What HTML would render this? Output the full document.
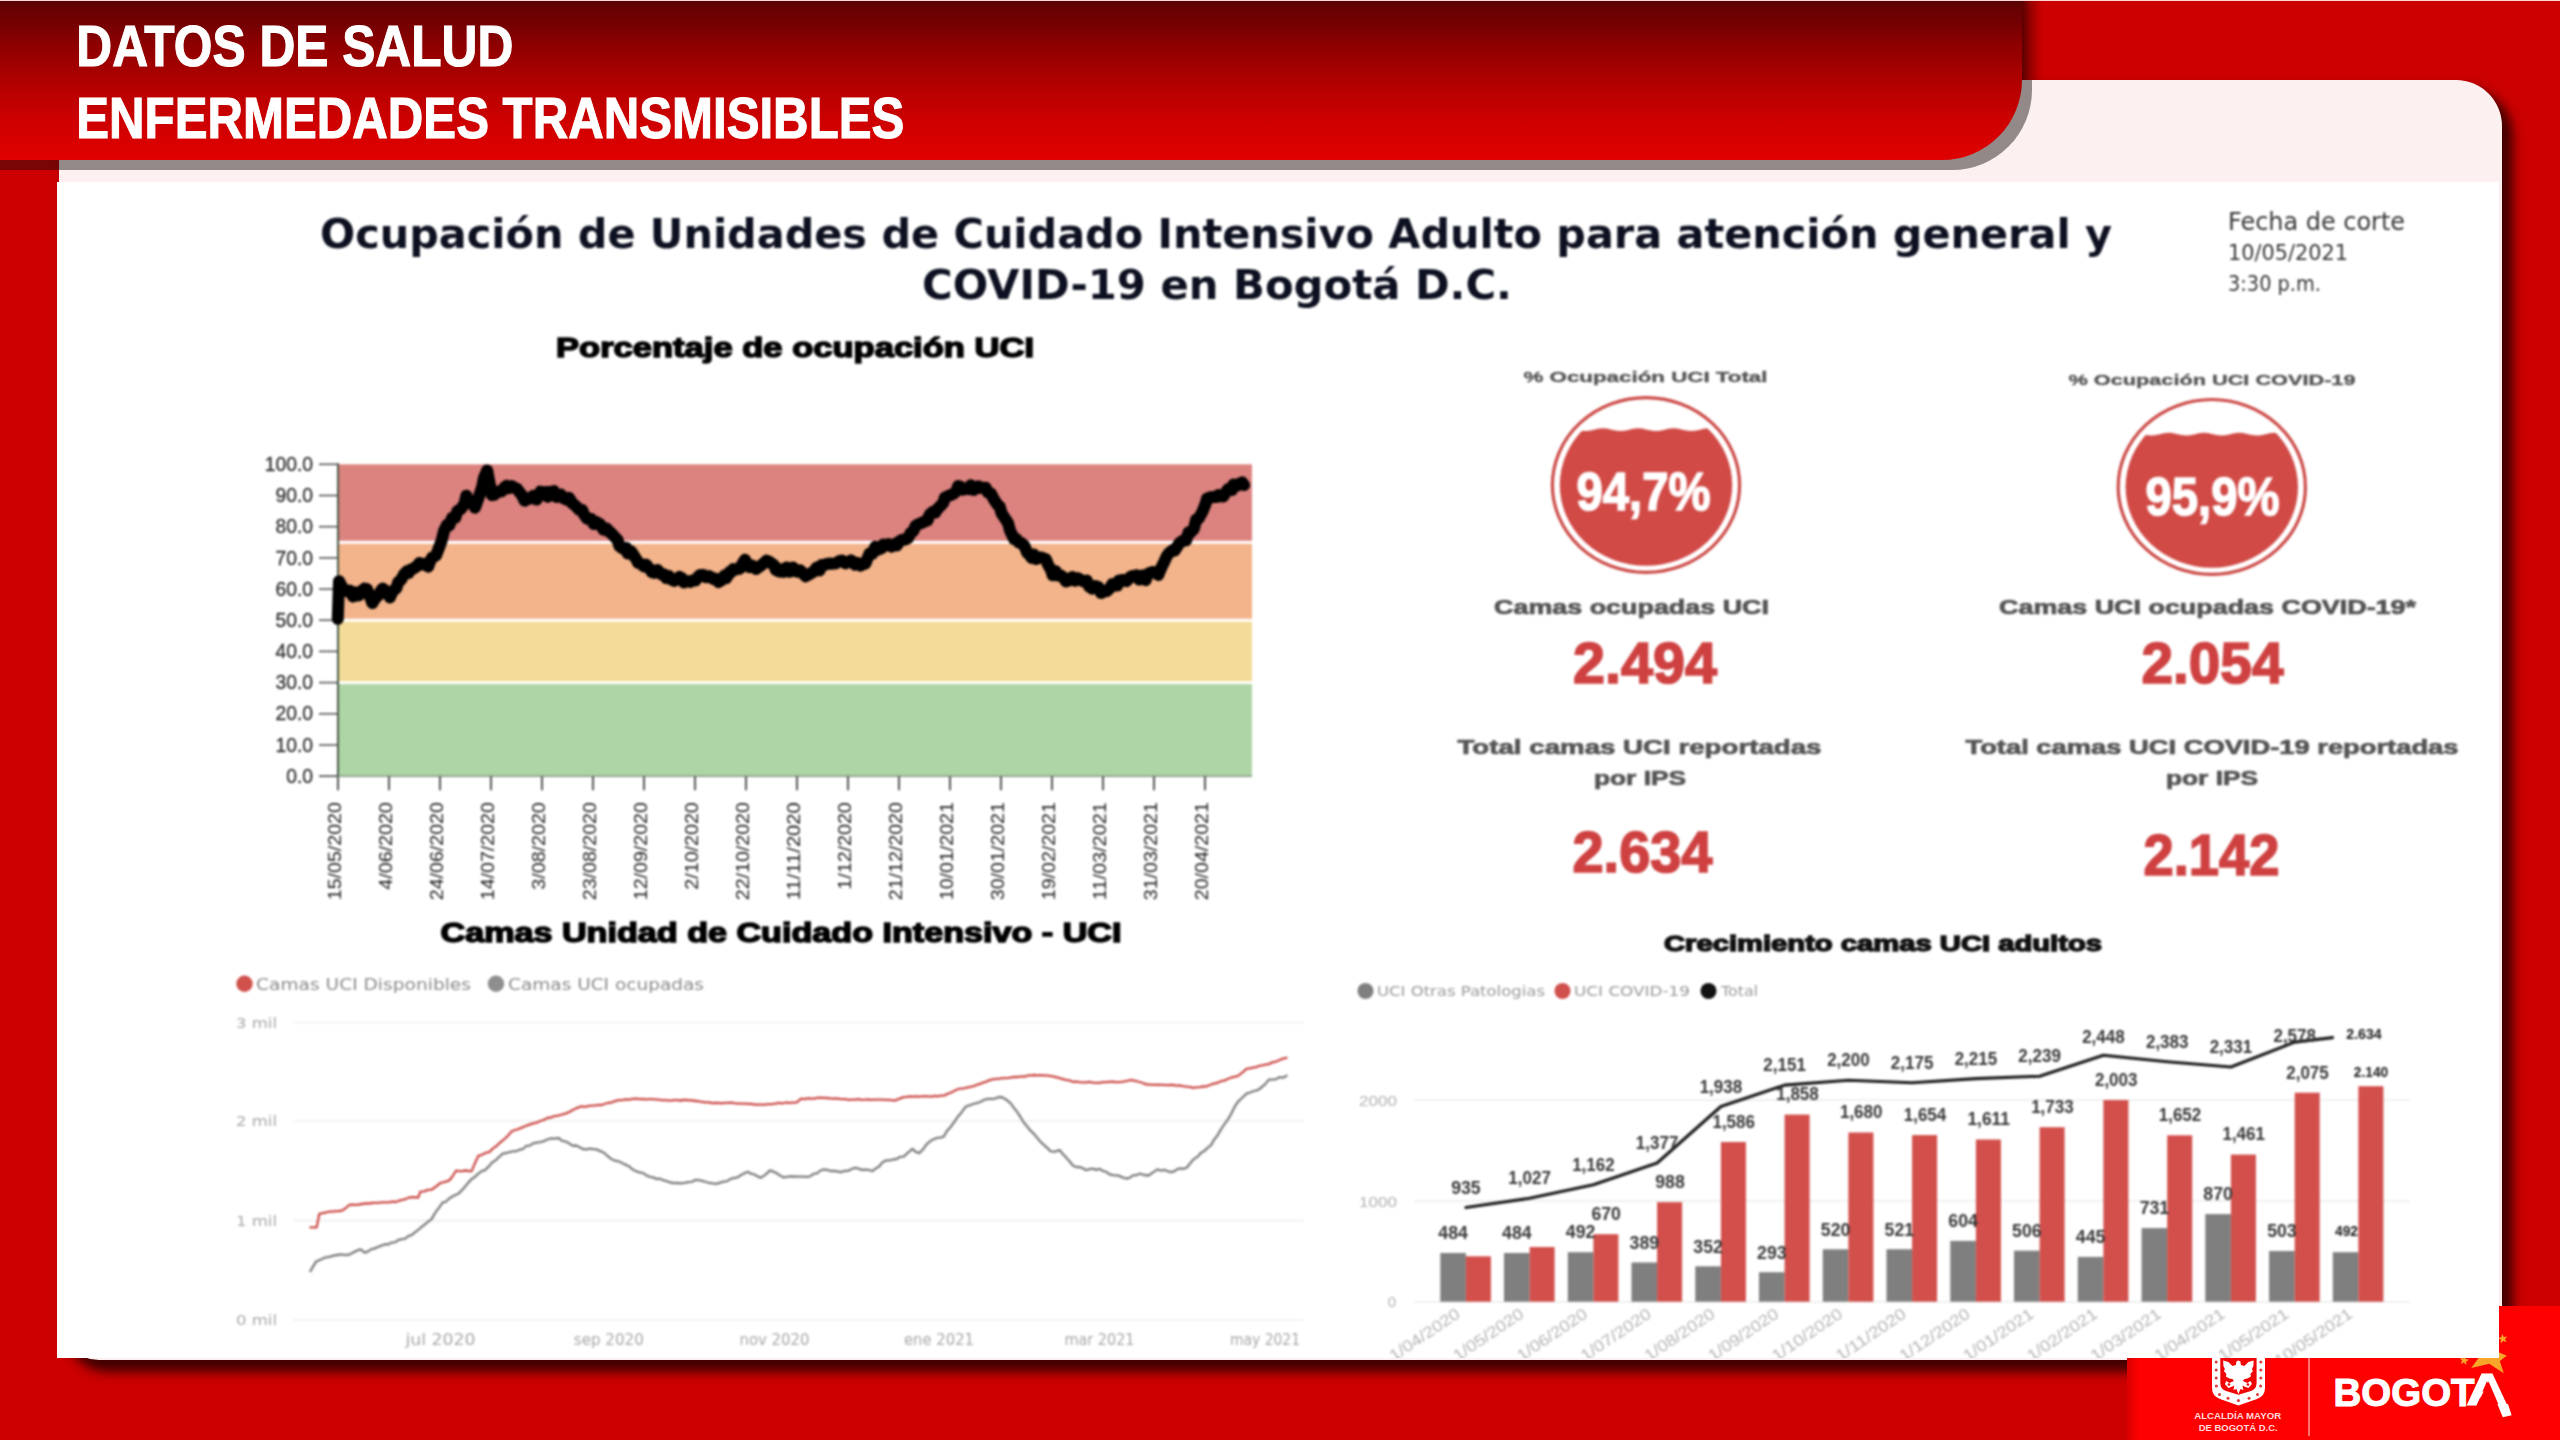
<!DOCTYPE html>
<html lang="es"><head><meta charset="utf-8"><title>Datos de salud - Enfermedades transmisibles</title>
<style>
html,body{margin:0;padding:0}
body{width:2560px;height:1440px;overflow:hidden;position:relative;background:#cc0000;font-family:"Liberation Sans",sans-serif}
.abs{position:absolute}
#panel{left:59px;top:80px;width:2443px;height:1280px;background:#fdf0f0;border-radius:0 46px 0 40px;box-shadow:9px 10px 11px 2px rgba(50,0,0,.9)}
#logo{left:2127px;top:1306px;width:433px;height:134px;background:linear-gradient(90deg,#d80000 0,#ff0000 12px,#ff0000 100%)}
#img{left:57px;top:182px;width:2442px;height:1176px;background:#fff;overflow:hidden}
#img svg{position:absolute;left:-57px;top:-182px;filter:blur(.85px)}
#bshadow{left:0px;top:-20px;width:2032px;height:190px;background:rgba(20,10,10,.45);border-radius:0 0 80px 0;clip-path:inset(100px 0 0 0)}
#bshadow2{left:2022px;top:0;width:20px;height:80px;background:linear-gradient(90deg,rgba(70,0,0,.85),rgba(90,0,0,.45) 45%,rgba(120,0,0,0))}
#banner{left:0;top:0;width:2022px;height:160px;border-radius:0 0 80px 0;background:linear-gradient(180deg,#4e0606 0,#640202 6px,#760002 25px,#8e0000 45px,#b40000 85px,#d00000 125px,#e00000 160px)}
#topline{left:0;top:0;width:2560px;height:1px;background:#ffd6d6}
</style></head><body>
<div class="abs" id="panel"></div>
<div class="abs" id="logo"></div>
<svg class="abs" style="left:0;top:0" width="2560" height="1440" viewBox="0 0 2560 1440">
<path d="M2212,1334 H2265 V1388 Q2265,1396 2257,1399 L2238.4,1405.5 L2220,1399 Q2212,1396 2212,1388 Z" fill="#fff"/>
<path d="M2220.3,1340 H2256.6 V1383 Q2256.6,1389 2251,1391 L2238.4,1394.8 L2226,1391 Q2220.3,1389 2220.3,1383 Z" fill="#f00606"/>
<circle cx="2216.2" cy="1362" r="1.5" fill="#e03a3a"/>
<circle cx="2216.2" cy="1370" r="1.5" fill="#e03a3a"/>
<circle cx="2216.2" cy="1378" r="1.5" fill="#e03a3a"/>
<circle cx="2216.4" cy="1386" r="1.5" fill="#e03a3a"/>
<circle cx="2260.8" cy="1362" r="1.5" fill="#e03a3a"/>
<circle cx="2260.8" cy="1370" r="1.5" fill="#e03a3a"/>
<circle cx="2260.8" cy="1378" r="1.5" fill="#e03a3a"/>
<circle cx="2260.6" cy="1386" r="1.5" fill="#e03a3a"/>
<circle cx="2219.5" cy="1394.5" r="1.5" fill="#e03a3a"/>
<circle cx="2257.5" cy="1394.5" r="1.5" fill="#e03a3a"/>
<circle cx="2228" cy="1398.3" r="1.5" fill="#e03a3a"/>
<circle cx="2249" cy="1398.3" r="1.5" fill="#e03a3a"/>
<circle cx="2238.4" cy="1400.6" r="1.5" fill="#e03a3a"/>
<polygon points="2238.4,1360.5 2240.4,1361.5 2240.9,1365.0 2244.4,1366.0 2248.4,1362.0 2253.6,1360.5 2253.4,1366.0 2251.9,1369.0 2252.9,1371.0 2250.4,1374.0 2250.9,1376.5 2247.4,1378.5 2244.4,1379.0 2242.9,1381.0 2247.4,1383.0 2250.4,1381.0 2251.9,1384.0 2248.4,1388.0 2244.4,1386.5 2242.4,1385.5 2243.4,1390.0 2240.4,1389.0 2238.4,1394.0 2236.4,1389.0 2233.4,1390.0 2234.4,1385.5 2232.4,1386.5 2228.4,1388.0 2224.9,1384.0 2226.4,1381.0 2229.4,1383.0 2233.9,1381.0 2232.4,1379.0 2229.4,1378.5 2225.9,1376.5 2226.4,1374.0 2223.9,1371.0 2224.9,1369.0 2223.4,1366.0 2223.2,1360.5 2228.4,1362.0 2232.4,1366.0 2235.9,1365.0 2236.4,1361.5" fill="#fff"/>
<circle cx="2228.9" cy="1384.5" r="1.3" fill="#f00606"/><circle cx="2247.9" cy="1384.5" r="1.3" fill="#f00606"/>
<text x="2237.7" y="1419" font-family='"Liberation Sans", sans-serif' font-size="8.2" font-weight="bold" fill="#ffd9d9" text-anchor="middle" textLength="87" lengthAdjust="spacingAndGlyphs">ALCALDÍA MAYOR</text>
<text x="2238.2" y="1430.6" font-family='"Liberation Sans", sans-serif' font-size="8.2" font-weight="bold" fill="#ffd9d9" text-anchor="middle" textLength="79" lengthAdjust="spacingAndGlyphs">DE BOGOTÁ D.C.</text>
<line x1="2309" y1="1350" x2="2309" y2="1436" stroke="#ff8f8f" stroke-width="1.6"/>
<polygon points="2471.3,1367.9 2480,1356 2470,1350 2484,1350 2490,1338 2496,1351 2506.7,1355.8 2499.8,1361 2503.75,1373.3 2489.2,1363.75" fill="#f8a62a"/>
<polygon points="2502.0,1333.8 2503.8,1336.9 2507.3,1336.4 2505.0,1339.0 2506.5,1342.2 2503.3,1340.8 2500.7,1343.2 2501.0,1339.7 2497.9,1338.1 2501.4,1337.3" fill="#f8a62a"/>
<polygon points="2465.1,1355.5 2465.7,1358.9 2469.2,1359.7 2466.1,1361.4 2466.4,1364.9 2463.8,1362.5 2460.6,1363.9 2462.1,1360.7 2459.8,1358.1 2463.3,1358.5" fill="#f8a62a"/>
<text x="2333.6" y="1405.6" font-family='"Liberation Sans", sans-serif' font-size="39" font-weight="bold" fill="#fff" textLength="141" lengthAdjust="spacingAndGlyphs" stroke="#fff" stroke-width="1.1">BOGOT</text>
<text x="2466.3" y="1405.2" font-family='"Liberation Sans", sans-serif' font-size="44.3" font-weight="bold" fill="#fff" textLength="41.5" lengthAdjust="spacingAndGlyphs" stroke="#fff" stroke-width="1.2">A</text>
<polygon points="2488.6,1381.6 2476,1407 2499.6,1407" fill="#ff0000"/>
<polygon points="2508,1404 2497.4,1404 2502.8,1417.2 2511.6,1415.2" fill="#fff"/>
</svg>
<div class="abs" id="img">
<svg width="2560" height="1440" viewBox="0 0 2560 1440">
<text x="1216.0" y="248.4" font-family='"DejaVu Sans", "Liberation Sans", sans-serif' font-size="40.7" font-weight="bold" fill="#0d1020" text-anchor="middle" textLength="1792.0" lengthAdjust="spacingAndGlyphs" >Ocupación de Unidades de Cuidado Intensivo Adulto para atención general y</text>
<text x="1217.0" y="298.5" font-family='"DejaVu Sans", "Liberation Sans", sans-serif' font-size="40.7" font-weight="bold" fill="#0d1020" text-anchor="middle" textLength="590.0" lengthAdjust="spacingAndGlyphs" >COVID-19 en Bogotá D.C.</text>
<text x="2228.0" y="229.5" font-family='"DejaVu Sans", "Liberation Sans", sans-serif' font-size="24" font-weight="normal" fill="#363636" text-anchor="start" textLength="177.0" lengthAdjust="spacingAndGlyphs" >Fecha de corte</text>
<text x="2228.0" y="260.0" font-family='"DejaVu Sans", "Liberation Sans", sans-serif' font-size="22" font-weight="normal" fill="#363636" text-anchor="start" textLength="120.0" lengthAdjust="spacingAndGlyphs" >10/05/2021</text>
<text x="2228.0" y="290.5" font-family='"DejaVu Sans", "Liberation Sans", sans-serif' font-size="22" font-weight="normal" fill="#363636" text-anchor="start" textLength="93.0" lengthAdjust="spacingAndGlyphs" >3:30 p.m.</text>
<text x="795.0" y="357.4" font-family='"Liberation Sans", sans-serif' font-size="27.4" font-weight="bold" fill="#000" text-anchor="middle" textLength="478.0" lengthAdjust="spacingAndGlyphs" stroke="#000" stroke-width="1.5">Porcentaje de ocupación UCI</text>
<rect x="338" y="464.3" width="914" height="311.90000000000003" fill="#fff"/>
<rect x="338" y="464.3" width="914" height="76.5" fill="#dc837f"/>
<rect x="338" y="543.8" width="914" height="75.0" fill="#f3b48b"/>
<rect x="338" y="621.8" width="914" height="59.4" fill="#f2dc97"/>
<rect x="338" y="684.1" width="914" height="92.1" fill="#aed5a5"/>
<line x1="338" y1="463.3" x2="338" y2="777.2" stroke="#4a5a48" stroke-width="2"/>
<line x1="320" y1="776.2" x2="1252" y2="776.2" stroke="#8a9a88" stroke-width="1.6"/>
<line x1="319" y1="776.2" x2="338" y2="776.2" stroke="#555" stroke-width="1.6"/>
<text x="313.0" y="782.8" font-family='"Liberation Sans", sans-serif' font-size="19.3" font-weight="normal" fill="#333" text-anchor="end" stroke="#333" stroke-width="0.35">0.0</text>
<line x1="319" y1="745.0" x2="338" y2="745.0" stroke="#555" stroke-width="1.6"/>
<text x="313.0" y="751.6" font-family='"Liberation Sans", sans-serif' font-size="19.3" font-weight="normal" fill="#333" text-anchor="end" stroke="#333" stroke-width="0.35">10.0</text>
<line x1="319" y1="713.8" x2="338" y2="713.8" stroke="#555" stroke-width="1.6"/>
<text x="313.0" y="720.4" font-family='"Liberation Sans", sans-serif' font-size="19.3" font-weight="normal" fill="#333" text-anchor="end" stroke="#333" stroke-width="0.35">20.0</text>
<line x1="319" y1="682.6" x2="338" y2="682.6" stroke="#555" stroke-width="1.6"/>
<text x="313.0" y="689.2" font-family='"Liberation Sans", sans-serif' font-size="19.3" font-weight="normal" fill="#333" text-anchor="end" stroke="#333" stroke-width="0.35">30.0</text>
<line x1="319" y1="651.4" x2="338" y2="651.4" stroke="#555" stroke-width="1.6"/>
<text x="313.0" y="658.0" font-family='"Liberation Sans", sans-serif' font-size="19.3" font-weight="normal" fill="#333" text-anchor="end" stroke="#333" stroke-width="0.35">40.0</text>
<line x1="319" y1="620.2" x2="338" y2="620.2" stroke="#555" stroke-width="1.6"/>
<text x="313.0" y="626.9" font-family='"Liberation Sans", sans-serif' font-size="19.3" font-weight="normal" fill="#333" text-anchor="end" stroke="#333" stroke-width="0.35">50.0</text>
<line x1="319" y1="589.1" x2="338" y2="589.1" stroke="#555" stroke-width="1.6"/>
<text x="313.0" y="595.7" font-family='"Liberation Sans", sans-serif' font-size="19.3" font-weight="normal" fill="#333" text-anchor="end" stroke="#333" stroke-width="0.35">60.0</text>
<line x1="319" y1="557.9" x2="338" y2="557.9" stroke="#555" stroke-width="1.6"/>
<text x="313.0" y="564.5" font-family='"Liberation Sans", sans-serif' font-size="19.3" font-weight="normal" fill="#333" text-anchor="end" stroke="#333" stroke-width="0.35">70.0</text>
<line x1="319" y1="526.7" x2="338" y2="526.7" stroke="#555" stroke-width="1.6"/>
<text x="313.0" y="533.3" font-family='"Liberation Sans", sans-serif' font-size="19.3" font-weight="normal" fill="#333" text-anchor="end" stroke="#333" stroke-width="0.35">80.0</text>
<line x1="319" y1="495.5" x2="338" y2="495.5" stroke="#555" stroke-width="1.6"/>
<text x="313.0" y="502.1" font-family='"Liberation Sans", sans-serif' font-size="19.3" font-weight="normal" fill="#333" text-anchor="end" stroke="#333" stroke-width="0.35">90.0</text>
<line x1="319" y1="464.3" x2="338" y2="464.3" stroke="#555" stroke-width="1.6"/>
<text x="313.0" y="470.9" font-family='"Liberation Sans", sans-serif' font-size="19.3" font-weight="normal" fill="#333" text-anchor="end" stroke="#333" stroke-width="0.35">100.0</text>
<line x1="338.0" y1="776.2" x2="338.0" y2="790.2" stroke="#555" stroke-width="2"/>
<text transform="translate(341.3,802.2) rotate(-90)" font-family='"Liberation Sans", sans-serif' font-size="18.5" fill="#222" text-anchor="end" textLength="98" lengthAdjust="spacingAndGlyphs">15/05/2020</text>
<line x1="389.0" y1="776.2" x2="389.0" y2="790.2" stroke="#555" stroke-width="2"/>
<text transform="translate(392.3,802.2) rotate(-90)" font-family='"Liberation Sans", sans-serif' font-size="18.5" fill="#222" text-anchor="end" textLength="87.5" lengthAdjust="spacingAndGlyphs">4/06/2020</text>
<line x1="440.0" y1="776.2" x2="440.0" y2="790.2" stroke="#555" stroke-width="2"/>
<text transform="translate(443.3,802.2) rotate(-90)" font-family='"Liberation Sans", sans-serif' font-size="18.5" fill="#222" text-anchor="end" textLength="98" lengthAdjust="spacingAndGlyphs">24/06/2020</text>
<line x1="491.0" y1="776.2" x2="491.0" y2="790.2" stroke="#555" stroke-width="2"/>
<text transform="translate(494.3,802.2) rotate(-90)" font-family='"Liberation Sans", sans-serif' font-size="18.5" fill="#222" text-anchor="end" textLength="98" lengthAdjust="spacingAndGlyphs">14/07/2020</text>
<line x1="542.0" y1="776.2" x2="542.0" y2="790.2" stroke="#555" stroke-width="2"/>
<text transform="translate(545.3,802.2) rotate(-90)" font-family='"Liberation Sans", sans-serif' font-size="18.5" fill="#222" text-anchor="end" textLength="87.5" lengthAdjust="spacingAndGlyphs">3/08/2020</text>
<line x1="593.0" y1="776.2" x2="593.0" y2="790.2" stroke="#555" stroke-width="2"/>
<text transform="translate(596.3,802.2) rotate(-90)" font-family='"Liberation Sans", sans-serif' font-size="18.5" fill="#222" text-anchor="end" textLength="98" lengthAdjust="spacingAndGlyphs">23/08/2020</text>
<line x1="644.0" y1="776.2" x2="644.0" y2="790.2" stroke="#555" stroke-width="2"/>
<text transform="translate(647.3,802.2) rotate(-90)" font-family='"Liberation Sans", sans-serif' font-size="18.5" fill="#222" text-anchor="end" textLength="98" lengthAdjust="spacingAndGlyphs">12/09/2020</text>
<line x1="695.0" y1="776.2" x2="695.0" y2="790.2" stroke="#555" stroke-width="2"/>
<text transform="translate(698.3,802.2) rotate(-90)" font-family='"Liberation Sans", sans-serif' font-size="18.5" fill="#222" text-anchor="end" textLength="87.5" lengthAdjust="spacingAndGlyphs">2/10/2020</text>
<line x1="746.0" y1="776.2" x2="746.0" y2="790.2" stroke="#555" stroke-width="2"/>
<text transform="translate(749.3,802.2) rotate(-90)" font-family='"Liberation Sans", sans-serif' font-size="18.5" fill="#222" text-anchor="end" textLength="98" lengthAdjust="spacingAndGlyphs">22/10/2020</text>
<line x1="797.0" y1="776.2" x2="797.0" y2="790.2" stroke="#555" stroke-width="2"/>
<text transform="translate(800.3,802.2) rotate(-90)" font-family='"Liberation Sans", sans-serif' font-size="18.5" fill="#222" text-anchor="end" textLength="98" lengthAdjust="spacingAndGlyphs">11/11/2020</text>
<line x1="848.0" y1="776.2" x2="848.0" y2="790.2" stroke="#555" stroke-width="2"/>
<text transform="translate(851.3,802.2) rotate(-90)" font-family='"Liberation Sans", sans-serif' font-size="18.5" fill="#222" text-anchor="end" textLength="87.5" lengthAdjust="spacingAndGlyphs">1/12/2020</text>
<line x1="899.0" y1="776.2" x2="899.0" y2="790.2" stroke="#555" stroke-width="2"/>
<text transform="translate(902.3,802.2) rotate(-90)" font-family='"Liberation Sans", sans-serif' font-size="18.5" fill="#222" text-anchor="end" textLength="98" lengthAdjust="spacingAndGlyphs">21/12/2020</text>
<line x1="950.0" y1="776.2" x2="950.0" y2="790.2" stroke="#555" stroke-width="2"/>
<text transform="translate(953.3,802.2) rotate(-90)" font-family='"Liberation Sans", sans-serif' font-size="18.5" fill="#222" text-anchor="end" textLength="98" lengthAdjust="spacingAndGlyphs">10/01/2021</text>
<line x1="1001.0" y1="776.2" x2="1001.0" y2="790.2" stroke="#555" stroke-width="2"/>
<text transform="translate(1004.3,802.2) rotate(-90)" font-family='"Liberation Sans", sans-serif' font-size="18.5" fill="#222" text-anchor="end" textLength="98" lengthAdjust="spacingAndGlyphs">30/01/2021</text>
<line x1="1052.0" y1="776.2" x2="1052.0" y2="790.2" stroke="#555" stroke-width="2"/>
<text transform="translate(1055.3,802.2) rotate(-90)" font-family='"Liberation Sans", sans-serif' font-size="18.5" fill="#222" text-anchor="end" textLength="98" lengthAdjust="spacingAndGlyphs">19/02/2021</text>
<line x1="1103.0" y1="776.2" x2="1103.0" y2="790.2" stroke="#555" stroke-width="2"/>
<text transform="translate(1106.3,802.2) rotate(-90)" font-family='"Liberation Sans", sans-serif' font-size="18.5" fill="#222" text-anchor="end" textLength="98" lengthAdjust="spacingAndGlyphs">11/03/2021</text>
<line x1="1154.0" y1="776.2" x2="1154.0" y2="790.2" stroke="#555" stroke-width="2"/>
<text transform="translate(1157.3,802.2) rotate(-90)" font-family='"Liberation Sans", sans-serif' font-size="18.5" fill="#222" text-anchor="end" textLength="98" lengthAdjust="spacingAndGlyphs">31/03/2021</text>
<line x1="1205.0" y1="776.2" x2="1205.0" y2="790.2" stroke="#555" stroke-width="2"/>
<text transform="translate(1208.3,802.2) rotate(-90)" font-family='"Liberation Sans", sans-serif' font-size="18.5" fill="#222" text-anchor="end" textLength="98" lengthAdjust="spacingAndGlyphs">20/04/2021</text>
<polyline fill="none" stroke="#000" stroke-width="12" stroke-linejoin="round" stroke-linecap="round" points="337.8,618.8 339.0,581.2 342.3,587.3 344.0,589.8 346.7,591.0 349.5,590.6 353.0,596.6 355.0,592.2 358.6,595.6 361.2,591.4 364.6,588.5 367.0,589.1 368.8,593.5 372.4,603.1 374.9,599.0 378.6,595.0 381.1,590.4 382.9,588.5 387.4,593.2 389.9,597.4 393.0,590.8 396.4,588.2 398.0,582.6 401.3,579.4 404.2,574.0 407.2,571.1 408.6,573.1 410.6,569.6 412.8,568.8 416.8,566.4 419.5,562.9 422.1,564.6 424.7,563.8 428.2,566.7 430.2,561.2 432.1,557.6 436.0,555.5 439.1,547.5 441.5,541.0 444.0,531.0 447.0,525.0 449.4,525.0 452.1,517.9 455.3,517.7 457.3,511.3 461.1,508.8 464.6,503.5 466.4,495.7 469.5,502.9 473.6,502.9 475.0,507.8 478.4,498.3 482.4,486.1 483.8,478.3 487.2,470.4 491.8,495.2 494.2,494.8 497.9,491.4 501.6,491.4 504.8,487.1 506.6,485.8 508.7,488.3 511.4,486.0 514.4,487.7 517.3,489.2 519.3,492.0 522.1,495.4 524.6,500.7 528.4,498.5 530.3,498.4 533.1,495.7 536.7,499.6 538.6,495.3 540.4,491.7 543.4,492.7 546.9,492.0 547.8,496.8 551.3,491.9 553.8,491.2 556.3,496.9 559.5,495.2 560.9,494.6 563.3,498.3 566.7,499.7 568.9,497.7 572.5,503.5 575.2,505.5 577.8,508.2 579.2,509.9 582.1,510.0 584.1,514.6 587.1,518.8 591.2,519.1 593.7,524.1 596.4,522.1 597.6,523.0 600.1,524.2 603.6,529.7 606.7,528.5 608.9,531.7 610.4,532.2 615.0,537.3 617.6,539.9 619.4,546.1 622.3,548.4 626.2,548.1 627.7,553.6 630.9,551.1 632.4,553.2 636.7,559.9 637.9,562.7 642.3,564.5 643.8,566.5 645.9,564.4 650.1,569.3 651.8,572.1 654.1,572.9 657.5,570.0 658.9,571.6 661.4,574.3 663.9,574.2 666.1,578.1 669.1,576.3 672.0,579.9 674.2,580.9 676.9,579.6 679.5,576.9 682.0,578.3 683.8,582.5 686.7,581.0 690.5,581.9 692.3,580.4 695.4,580.6 697.1,578.0 700.0,575.0 703.7,575.0 705.8,577.3 709.1,576.1 711.0,577.2 713.4,579.1 715.8,578.8 718.4,582.0 721.5,580.3 724.6,575.3 726.4,578.1 729.6,571.9 730.8,572.5 733.3,569.1 736.0,569.5 740.0,568.6 741.4,565.4 745.0,559.7 748.1,566.0 749.4,567.2 752.4,565.7 756.2,569.1 757.1,568.0 760.6,565.8 762.7,564.1 766.5,560.6 768.9,561.5 770.4,562.6 774.2,565.4 775.8,570.0 779.8,571.7 781.1,569.2 783.6,571.9 786.7,567.5 789.6,571.8 793.0,567.4 794.3,571.0 798.1,571.8 800.0,570.2 804.1,574.6 805.5,576.3 809.3,574.2 810.8,573.2 813.4,571.9 816.8,567.5 819.6,570.4 821.7,565.0 824.8,565.0 826.6,564.0 829.1,563.6 832.1,563.8 835.5,563.4 837.5,562.3 839.7,561.0 842.0,560.6 845.5,563.4 846.9,562.6 850.9,560.4 853.1,562.3 855.0,564.8 857.3,562.8 860.4,565.6 862.2,564.7 865.4,563.6 867.5,558.3 869.6,553.5 872.3,553.7 875.4,546.7 877.7,549.9 881.9,548.0 883.4,544.6 886.0,545.0 888.4,544.0 891.3,546.6 895.5,543.6 896.8,545.5 899.6,541.3 901.9,540.0 905.8,539.3 908.2,537.8 910.4,533.3 913.2,531.1 915.7,525.8 918.9,524.0 922.0,522.7 925.0,521.3 927.6,520.4 929.5,514.9 933.3,511.6 935.4,512.4 936.7,510.1 941.0,505.3 943.3,502.9 944.8,497.7 948.1,496.1 951.4,494.7 953.5,493.8 956.4,491.3 958.1,486.0 960.5,486.7 962.8,489.7 966.1,488.7 968.7,489.2 970.8,485.3 973.8,490.0 975.6,488.9 978.3,486.3 980.8,487.6 981.9,487.9 985.6,487.7 988.0,492.5 990.8,493.4 994.0,499.5 997.3,504.6 999.8,506.8 1001.6,513.4 1005.5,519.1 1008.1,523.2 1010.0,530.6 1014.1,539.0 1016.6,539.1 1018.8,542.6 1021.2,543.0 1024.5,546.0 1027.2,552.9 1027.8,552.6 1031.9,558.1 1033.9,554.5 1036.1,559.1 1038.9,557.4 1041.5,557.6 1045.8,559.1 1048.3,565.2 1051.2,570.2 1052.6,575.2 1055.7,571.3 1057.4,575.4 1060.9,575.6 1062.9,577.1 1065.9,581.4 1067.9,580.9 1072.2,577.1 1075.0,580.7 1077.6,578.1 1079.1,578.7 1083.0,581.2 1084.3,581.6 1086.8,580.6 1089.1,586.6 1092.1,588.6 1094.9,586.0 1098.4,587.0 1101.0,593.0 1104.6,591.3 1106.8,591.0 1110.0,588.0 1112.2,584.1 1114.8,585.6 1117.4,585.6 1118.9,580.7 1122.7,580.0 1124.3,580.0 1126.5,581.1 1130.3,577.0 1132.2,576.0 1134.6,576.6 1136.5,575.2 1139.2,579.6 1142.4,575.5 1145.8,580.2 1147.5,574.2 1149.6,573.0 1152.6,572.1 1155.0,572.2 1158.3,575.1 1161.5,567.2 1163.8,562.7 1166.6,556.5 1168.6,553.5 1173.1,550.0 1174.8,550.4 1178.1,545.3 1179.5,542.9 1182.4,541.0 1186.2,540.3 1188.6,532.3 1189.6,533.4 1193.9,528.9 1196.2,519.5 1198.7,518.5 1202.5,511.5 1205.7,503.5 1206.9,498.6 1210.7,497.3 1214.1,497.1 1216.2,497.0 1218.4,495.2 1220.2,496.2 1223.2,496.6 1226.7,491.1 1228.3,489.1 1231.9,490.0 1233.5,484.5 1236.9,485.8 1239.2,483.7 1242.2,482.4 1244.1,485.1"/>
<text x="1645.5" y="382.0" font-family='"Liberation Sans", sans-serif' font-size="15.5" font-weight="bold" fill="#555" text-anchor="middle" textLength="244.0" lengthAdjust="spacingAndGlyphs" stroke="#555" stroke-width="0.35">% Ocupación UCI Total</text>
<text x="2212.0" y="385.3" font-family='"Liberation Sans", sans-serif' font-size="15.5" font-weight="bold" fill="#555" text-anchor="middle" textLength="287.0" lengthAdjust="spacingAndGlyphs" stroke="#555" stroke-width="0.35">% Ocupación UCI COVID-19</text>
<ellipse cx="1646" cy="485" rx="93.6" ry="87.4" fill="#fff" stroke="#cc4a47" stroke-width="3.2"/>
<clipPath id="g1"><ellipse cx="1646" cy="485" rx="86.2" ry="80.8"/></clipPath>
<path d="M1557.8,430 Q1566.6,426.8 1575.4,429.5 Q1584.3,432.2 1593.1,430.0 Q1601.9,426.8 1610.7,429.5 Q1619.5,432.2 1628.4,430.0 Q1637.2,426.8 1646.0,429.5 Q1654.8,432.2 1663.6,430.0 Q1672.5,426.8 1681.3,429.5 Q1690.1,432.2 1698.9,430.0 Q1707.7,426.8 1716.6,429.5 Q1725.4,432.2 1734.2,430.0 V567.8 H1557.8 Z" fill="#d14a46" clip-path="url(#g1)"/>
<text x="1643.5" y="509.6" font-family='"Liberation Sans", sans-serif' font-size="53.5" font-weight="bold" fill="#fff" text-anchor="middle" textLength="134.0" lengthAdjust="spacingAndGlyphs" stroke="#fff" stroke-width="1.6">94,7%</text>
<ellipse cx="2211.8" cy="486.9" rx="93.6" ry="87.4" fill="#fff" stroke="#cc4a47" stroke-width="3.2"/>
<clipPath id="g2"><ellipse cx="2211.8" cy="486.9" rx="86.2" ry="80.8"/></clipPath>
<path d="M2123.6000000000004,434.5 Q2132.4,431.3 2141.2,434.0 Q2150.1,436.7 2158.9,434.5 Q2167.7,431.3 2176.5,434.0 Q2185.3,436.7 2194.2,434.5 Q2203.0,431.3 2211.8,434.0 Q2220.6,436.7 2229.4,434.5 Q2238.3,431.3 2247.1,434.0 Q2255.9,436.7 2264.7,434.5 Q2273.5,431.3 2282.4,434.0 Q2291.2,436.7 2300.0,434.5 V569.6999999999999 H2123.6000000000004 Z" fill="#d14a46" clip-path="url(#g2)"/>
<text x="2212.5" y="515.0" font-family='"Liberation Sans", sans-serif' font-size="53.5" font-weight="bold" fill="#fff" text-anchor="middle" textLength="134.0" lengthAdjust="spacingAndGlyphs" stroke="#fff" stroke-width="1.6">95,9%</text>
<text x="1631.5" y="613.5" font-family='"Liberation Sans", sans-serif' font-size="19.5" font-weight="bold" fill="#555" text-anchor="middle" textLength="275.0" lengthAdjust="spacingAndGlyphs" stroke="#555" stroke-width="0.7">Camas ocupadas UCI</text>
<text x="2207.5" y="613.5" font-family='"Liberation Sans", sans-serif' font-size="19.5" font-weight="bold" fill="#555" text-anchor="middle" textLength="417.0" lengthAdjust="spacingAndGlyphs" stroke="#555" stroke-width="0.7">Camas UCI ocupadas COVID-19*</text>
<text x="1645.0" y="683.0" font-family='"Liberation Sans", sans-serif' font-size="58" font-weight="bold" fill="#cf4141" text-anchor="middle" textLength="144.0" lengthAdjust="spacingAndGlyphs" stroke="#cf4141" stroke-width="1.7">2.494</text>
<text x="2212.5" y="683.0" font-family='"Liberation Sans", sans-serif' font-size="58" font-weight="bold" fill="#cf4141" text-anchor="middle" textLength="142.0" lengthAdjust="spacingAndGlyphs" stroke="#cf4141" stroke-width="1.7">2.054</text>
<text x="1639.5" y="754.0" font-family='"Liberation Sans", sans-serif' font-size="19.5" font-weight="bold" fill="#555" text-anchor="middle" textLength="364.0" lengthAdjust="spacingAndGlyphs" stroke="#555" stroke-width="0.7">Total camas UCI reportadas</text>
<text x="1640.0" y="785.0" font-family='"Liberation Sans", sans-serif' font-size="19.5" font-weight="bold" fill="#555" text-anchor="middle" textLength="92.0" lengthAdjust="spacingAndGlyphs" stroke="#555" stroke-width="0.7">por IPS</text>
<text x="2212.0" y="754.0" font-family='"Liberation Sans", sans-serif' font-size="19.5" font-weight="bold" fill="#555" text-anchor="middle" textLength="493.0" lengthAdjust="spacingAndGlyphs" stroke="#555" stroke-width="0.7">Total camas UCI COVID-19 reportadas</text>
<text x="2212.0" y="785.0" font-family='"Liberation Sans", sans-serif' font-size="19.5" font-weight="bold" fill="#555" text-anchor="middle" textLength="92.0" lengthAdjust="spacingAndGlyphs" stroke="#555" stroke-width="0.7">por IPS</text>
<text x="1642.5" y="872.0" font-family='"Liberation Sans", sans-serif' font-size="58" font-weight="bold" fill="#cf4141" text-anchor="middle" textLength="140.0" lengthAdjust="spacingAndGlyphs" stroke="#cf4141" stroke-width="1.7">2.634</text>
<text x="2211.5" y="875.0" font-family='"Liberation Sans", sans-serif' font-size="58" font-weight="bold" fill="#cf4141" text-anchor="middle" textLength="136.0" lengthAdjust="spacingAndGlyphs" stroke="#cf4141" stroke-width="1.7">2.142</text>
<text x="781.0" y="942.0" font-family='"Liberation Sans", sans-serif' font-size="27" font-weight="bold" fill="#000" text-anchor="middle" textLength="681.0" lengthAdjust="spacingAndGlyphs" stroke="#000" stroke-width="1.5">Camas Unidad de Cuidado Intensivo - UCI</text>
<circle cx="244.5" cy="983.7" r="8.2" fill="#d0504c"/>
<text x="256.0" y="989.5" font-family='"DejaVu Sans", "Liberation Sans", sans-serif' font-size="16.5" font-weight="normal" fill="#8a8a8a" text-anchor="start" textLength="215.0" lengthAdjust="spacingAndGlyphs" >Camas UCI Disponibles</text>
<circle cx="496" cy="983.7" r="8.2" fill="#8e8e8e"/>
<text x="508.0" y="989.5" font-family='"DejaVu Sans", "Liberation Sans", sans-serif' font-size="16.5" font-weight="normal" fill="#8a8a8a" text-anchor="start" textLength="196.0" lengthAdjust="spacingAndGlyphs" >Camas UCI ocupadas</text>
<line x1="293" y1="1320" x2="1304" y2="1320" stroke="#efefef" stroke-width="1.6"/>
<text x="236.0" y="1325.0" font-family='"DejaVu Sans", "Liberation Sans", sans-serif' font-size="14" font-weight="normal" fill="#a8a8a8" text-anchor="start" textLength="41.0" lengthAdjust="spacingAndGlyphs" >0 mil</text>
<line x1="293" y1="1220.6" x2="1304" y2="1220.6" stroke="#efefef" stroke-width="1.6"/>
<text x="236.0" y="1225.6" font-family='"DejaVu Sans", "Liberation Sans", sans-serif' font-size="14" font-weight="normal" fill="#a8a8a8" text-anchor="start" textLength="41.0" lengthAdjust="spacingAndGlyphs" >1 mil</text>
<line x1="293" y1="1121" x2="1304" y2="1121" stroke="#efefef" stroke-width="1.6"/>
<text x="236.0" y="1126.0" font-family='"DejaVu Sans", "Liberation Sans", sans-serif' font-size="14" font-weight="normal" fill="#a8a8a8" text-anchor="start" textLength="41.0" lengthAdjust="spacingAndGlyphs" >2 mil</text>
<line x1="293" y1="1022.5" x2="1304" y2="1022.5" stroke="#efefef" stroke-width="1.6"/>
<text x="236.0" y="1027.5" font-family='"DejaVu Sans", "Liberation Sans", sans-serif' font-size="14" font-weight="normal" fill="#a8a8a8" text-anchor="start" textLength="41.0" lengthAdjust="spacingAndGlyphs" >3 mil</text>
<text x="440.5" y="1344.5" font-family='"DejaVu Sans", "Liberation Sans", sans-serif' font-size="15" font-weight="normal" fill="#a8a8a8" text-anchor="middle" textLength="70.0" lengthAdjust="spacingAndGlyphs" >jul 2020</text>
<text x="608.8" y="1344.5" font-family='"DejaVu Sans", "Liberation Sans", sans-serif' font-size="15" font-weight="normal" fill="#a8a8a8" text-anchor="middle" textLength="70.0" lengthAdjust="spacingAndGlyphs" >sep 2020</text>
<text x="774.5" y="1344.5" font-family='"DejaVu Sans", "Liberation Sans", sans-serif' font-size="15" font-weight="normal" fill="#a8a8a8" text-anchor="middle" textLength="70.0" lengthAdjust="spacingAndGlyphs" >nov 2020</text>
<text x="939.0" y="1344.5" font-family='"DejaVu Sans", "Liberation Sans", sans-serif' font-size="15" font-weight="normal" fill="#a8a8a8" text-anchor="middle" textLength="70.0" lengthAdjust="spacingAndGlyphs" >ene 2021</text>
<text x="1099.5" y="1344.5" font-family='"DejaVu Sans", "Liberation Sans", sans-serif' font-size="15" font-weight="normal" fill="#a8a8a8" text-anchor="middle" textLength="70.0" lengthAdjust="spacingAndGlyphs" >mar 2021</text>
<text x="1265.0" y="1344.5" font-family='"DejaVu Sans", "Liberation Sans", sans-serif' font-size="15" font-weight="normal" fill="#a8a8a8" text-anchor="middle" textLength="70.0" lengthAdjust="spacingAndGlyphs" >may 2021</text>
<polyline fill="none" stroke="#7d7d7d" stroke-width="2.3" stroke-linejoin="round" stroke-linecap="round" points="310.4,1271.2 315.8,1261.9 320.2,1259.7 324.7,1257.7 329.1,1256.9 333.6,1255.6 337.2,1255.0 340.7,1254.4 344.3,1254.8 347.8,1255.0 351.4,1253.6 355.9,1251.1 360.3,1249.3 364.8,1252.6 368.1,1251.4 371.4,1249.1 374.8,1248.5 378.1,1246.8 381.5,1245.6 384.8,1244.2 388.1,1244.5 391.5,1242.6 394.8,1242.3 398.2,1240.2 401.5,1239.1 404.8,1238.9 408.2,1236.1 411.5,1235.2 414.9,1232.4 418.2,1229.9 421.5,1227.0 424.9,1224.3 428.2,1221.7 431.6,1219.1 435.3,1212.6 439.0,1207.8 442.7,1202.4 445.8,1201.8 448.9,1198.7 452.0,1196.8 455.2,1195.0 458.3,1193.7 461.6,1190.6 465.0,1186.7 468.3,1182.6 471.6,1179.1 475.0,1176.8 478.3,1173.6 481.7,1171.1 485.0,1170.1 488.6,1166.7 492.1,1162.4 495.7,1160.3 499.2,1156.8 502.8,1153.6 506.2,1153.0 509.5,1152.2 512.8,1151.4 516.2,1151.2 519.5,1149.7 522.9,1149.0 526.2,1146.0 529.5,1145.7 533.1,1143.4 536.7,1142.6 540.2,1142.2 543.8,1141.2 547.3,1139.5 551.1,1138.4 554.8,1138.6 558.5,1138.0 562.2,1140.8 565.9,1141.6 569.6,1143.8 572.9,1145.8 576.3,1145.5 579.6,1147.2 583.0,1149.0 586.5,1149.4 590.1,1148.6 593.7,1149.1 597.2,1149.6 600.8,1151.4 604.1,1152.8 607.5,1156.0 610.8,1158.7 614.1,1160.3 618.6,1161.3 623.0,1163.5 626.4,1165.1 629.7,1166.8 633.1,1169.8 636.4,1171.3 639.7,1172.4 643.1,1173.1 646.4,1175.4 649.8,1176.8 653.1,1177.4 656.4,1179.0 659.8,1178.7 663.1,1180.1 666.7,1181.1 670.2,1182.5 673.8,1183.1 677.4,1182.9 680.9,1183.3 684.5,1182.8 688.1,1182.1 691.6,1181.9 695.2,1180.0 698.8,1180.1 702.3,1180.9 705.9,1182.0 709.4,1182.8 713.0,1183.4 716.6,1183.8 720.1,1182.7 723.7,1181.6 727.2,1181.1 730.8,1178.8 734.4,1177.8 737.7,1177.3 741.1,1175.0 744.4,1173.3 747.7,1171.8 751.1,1173.7 754.4,1174.5 757.8,1176.6 761.1,1177.6 765.5,1174.6 770.0,1170.4 773.3,1171.6 776.7,1173.2 780.0,1175.4 783.4,1177.3 786.7,1176.8 790.0,1176.3 793.4,1176.5 796.7,1176.7 800.1,1176.7 803.4,1176.7 806.7,1176.8 810.1,1176.4 813.4,1173.8 816.8,1173.3 820.1,1170.8 823.4,1169.5 827.0,1169.8 830.6,1171.0 834.1,1170.8 837.7,1171.5 841.2,1172.1 844.6,1170.9 847.9,1170.9 851.3,1169.3 854.6,1167.8 858.2,1168.4 861.7,1169.9 865.3,1169.7 868.9,1169.8 872.4,1171.2 875.8,1168.4 879.1,1166.4 882.4,1162.4 885.8,1160.5 889.3,1160.3 892.9,1159.6 896.5,1159.0 900.0,1156.9 903.6,1156.6 908.0,1152.6 912.5,1148.9 915.8,1151.9 919.2,1153.1 922.9,1149.5 926.6,1144.4 930.3,1141.1 933.7,1139.3 937.0,1137.9 940.3,1137.6 943.7,1136.7 947.0,1130.9 950.4,1127.3 953.7,1122.8 957.0,1117.8 961.5,1112.4 965.9,1106.5 969.5,1105.3 973.1,1104.0 976.6,1103.2 980.2,1102.0 983.8,1099.9 987.3,1099.0 990.9,1098.9 994.4,1098.8 998.0,1097.4 1001.6,1097.0 1006.0,1099.5 1010.5,1103.1 1013.8,1107.7 1017.1,1111.9 1020.5,1117.0 1023.8,1122.5 1027.2,1126.6 1030.5,1130.7 1033.8,1133.7 1037.2,1137.7 1040.5,1141.9 1043.9,1144.8 1047.2,1147.9 1050.5,1151.3 1055.0,1151.7 1059.5,1150.0 1062.8,1154.0 1066.1,1157.4 1069.5,1161.2 1072.8,1165.5 1076.2,1167.0 1079.5,1167.2 1082.8,1168.2 1086.2,1170.2 1089.5,1169.2 1092.9,1168.6 1096.2,1169.8 1099.5,1168.8 1102.9,1171.0 1106.2,1171.9 1109.6,1174.3 1112.9,1175.1 1116.2,1175.4 1119.6,1176.0 1122.9,1177.6 1126.2,1178.5 1129.6,1177.9 1132.9,1175.4 1136.3,1175.2 1139.6,1173.7 1144.1,1175.0 1148.5,1175.5 1153.0,1172.4 1157.4,1169.4 1160.8,1170.7 1164.1,1169.9 1167.4,1171.1 1170.8,1172.1 1173.9,1171.5 1177.0,1169.4 1180.1,1168.4 1183.2,1168.8 1186.4,1167.9 1190.1,1163.4 1193.8,1159.1 1197.5,1156.7 1200.8,1153.1 1204.2,1151.1 1207.5,1147.9 1210.9,1145.4 1214.2,1139.4 1217.5,1135.4 1220.9,1129.4 1224.2,1124.7 1227.6,1119.9 1230.9,1114.3 1234.2,1107.7 1237.6,1102.2 1242.0,1098.0 1246.5,1093.7 1250.2,1092.5 1253.9,1091.0 1257.6,1090.2 1261.3,1087.5 1265.0,1084.4 1268.8,1079.6 1272.3,1079.6 1275.9,1079.2 1279.4,1077.2 1283.0,1077.7 1286.6,1075.7"/>
<polyline fill="none" stroke="#cc4d49" stroke-width="2.3" stroke-linejoin="round" stroke-linecap="round" points="310.4,1227.4 313.6,1227.3 316.7,1227.4 319.3,1213.8 322.6,1213.1 325.9,1212.5 329.1,1211.7 332.5,1211.6 335.8,1211.2 339.2,1211.0 342.5,1210.4 345.8,1208.0 349.2,1205.0 352.4,1204.6 355.6,1204.8 358.8,1204.5 362.0,1204.0 365.3,1203.5 368.5,1203.5 371.7,1203.0 374.9,1202.8 378.1,1202.8 381.7,1202.3 385.2,1202.4 388.8,1202.3 392.4,1201.7 395.9,1202.0 399.3,1200.5 402.6,1199.9 406.0,1198.8 409.3,1197.5 413.8,1197.1 418.2,1197.5 420.4,1191.6 424.1,1191.3 427.9,1189.9 431.6,1189.7 436.0,1186.5 440.5,1183.0 444.9,1181.9 449.4,1180.3 452.7,1176.0 456.1,1170.7 459.2,1171.1 462.3,1171.1 465.4,1170.5 468.5,1171.0 471.6,1171.1 475.0,1163.1 478.3,1155.9 482.0,1154.8 485.7,1152.8 489.5,1151.9 492.8,1148.6 496.1,1146.3 499.5,1143.0 502.8,1140.5 507.3,1136.4 511.7,1131.3 515.3,1130.0 518.8,1128.9 522.4,1127.4 526.0,1125.8 529.5,1124.6 533.1,1123.3 536.7,1122.6 540.2,1121.0 543.8,1119.9 547.3,1117.9 550.9,1117.5 554.5,1116.1 558.0,1115.6 561.6,1114.7 565.2,1113.6 568.5,1112.4 571.8,1110.5 575.2,1108.8 578.5,1107.4 581.7,1106.4 584.9,1106.8 588.1,1106.2 591.2,1105.7 594.4,1105.7 597.6,1105.0 600.8,1105.2 604.3,1104.0 607.9,1103.0 611.5,1102.4 615.0,1101.2 618.6,1100.1 622.2,1100.2 625.7,1099.3 629.3,1099.6 632.8,1098.8 636.4,1098.7 639.5,1099.2 642.6,1099.0 645.8,1099.3 648.9,1099.2 652.0,1099.1 655.1,1099.3 658.2,1099.6 661.3,1100.1 664.5,1100.2 667.6,1100.4 670.8,1100.7 673.9,1100.1 677.1,1100.2 680.3,1100.5 683.5,1100.0 686.7,1100.0 689.8,1100.3 693.0,1100.5 696.2,1101.0 699.4,1101.3 702.6,1102.0 705.7,1102.4 708.9,1102.4 712.1,1103.2 715.3,1103.0 718.5,1102.8 721.7,1103.4 724.8,1102.9 728.0,1102.8 731.2,1102.7 734.4,1103.2 737.7,1103.6 741.1,1103.7 744.4,1103.7 747.7,1103.8 751.1,1103.8 754.4,1104.5 757.8,1104.7 761.1,1104.7 764.7,1104.6 768.2,1104.1 771.8,1104.1 775.3,1103.6 778.9,1102.9 782.5,1103.3 786.0,1102.5 789.6,1102.8 793.2,1102.6 796.7,1102.4 801.2,1098.7 804.4,1099.1 807.5,1098.3 810.7,1098.5 813.9,1098.6 817.1,1097.8 820.3,1097.7 823.4,1097.8 826.6,1098.0 829.8,1098.3 833.0,1098.7 836.2,1098.5 839.3,1098.8 842.5,1099.1 845.7,1099.1 848.9,1099.8 852.1,1099.7 855.2,1099.7 858.4,1099.1 861.6,1099.8 864.8,1099.7 868.0,1099.5 871.3,1099.8 874.6,1099.7 878.0,1099.6 881.3,1099.6 884.7,1099.8 888.0,1099.8 891.3,1100.1 894.7,1100.6 899.1,1098.8 903.6,1097.1 906.7,1096.9 909.8,1096.5 912.8,1096.7 915.9,1096.5 919.0,1096.7 922.1,1096.4 925.2,1096.2 928.3,1096.4 931.3,1096.6 934.4,1095.9 937.5,1096.4 940.6,1095.6 943.7,1095.7 947.0,1094.1 950.4,1092.8 953.7,1091.3 957.0,1089.5 960.4,1088.6 963.7,1088.4 967.1,1087.5 970.4,1086.8 973.6,1086.2 976.8,1084.8 979.9,1083.8 983.1,1082.6 986.3,1081.7 989.5,1080.1 992.7,1079.3 995.8,1078.9 999.0,1078.8 1002.2,1078.2 1005.4,1078.2 1008.6,1077.8 1011.7,1077.3 1014.9,1077.0 1018.1,1077.0 1021.3,1076.3 1024.5,1076.6 1027.6,1075.7 1030.8,1075.3 1034.0,1075.0 1037.2,1075.4 1040.8,1075.2 1044.3,1075.4 1047.9,1075.7 1051.4,1076.1 1055.0,1076.9 1058.6,1077.9 1062.1,1078.9 1065.7,1079.9 1069.2,1080.4 1072.8,1081.8 1076.2,1081.7 1079.5,1082.2 1082.8,1082.3 1086.2,1082.4 1089.5,1081.9 1092.9,1082.6 1096.2,1082.8 1099.5,1082.9 1102.7,1082.1 1105.9,1082.1 1109.1,1081.9 1112.3,1081.7 1115.4,1082.2 1118.6,1082.1 1121.8,1081.8 1126.2,1081.1 1130.7,1080.0 1134.3,1080.7 1137.8,1081.5 1141.4,1082.5 1145.0,1084.0 1148.5,1084.6 1151.6,1084.7 1154.8,1084.8 1157.9,1084.6 1161.0,1084.8 1164.1,1084.9 1167.2,1085.2 1170.3,1085.0 1173.5,1085.0 1176.6,1085.6 1179.7,1085.3 1183.0,1086.2 1186.4,1086.7 1189.7,1086.9 1193.0,1087.9 1196.4,1087.4 1199.7,1087.2 1203.1,1086.5 1206.4,1086.3 1210.0,1085.0 1213.5,1083.6 1217.1,1083.0 1220.7,1081.2 1224.2,1080.6 1227.6,1079.0 1230.9,1077.7 1234.2,1076.8 1237.6,1076.1 1242.0,1072.9 1246.5,1068.8 1249.7,1068.4 1252.8,1067.7 1256.0,1067.2 1259.2,1065.9 1262.4,1065.4 1265.6,1064.5 1268.8,1064.1 1272.3,1062.4 1275.9,1061.7 1279.4,1060.0 1283.0,1058.7 1286.6,1057.8"/>
<text x="1883.0" y="951.0" font-family='"Liberation Sans", sans-serif' font-size="21.5" font-weight="bold" fill="#111" text-anchor="middle" textLength="438.0" lengthAdjust="spacingAndGlyphs" stroke="#111" stroke-width="1.4">Crecimiento camas UCI adultos</text>
<circle cx="1365.5" cy="991" r="8" fill="#7f7f7f"/>
<text x="1377.0" y="996.0" font-family='"DejaVu Sans", "Liberation Sans", sans-serif' font-size="14" font-weight="normal" fill="#9a9a9a" text-anchor="start" textLength="168.0" lengthAdjust="spacingAndGlyphs" >UCI Otras Patologias</text>
<circle cx="1562.5" cy="991" r="8" fill="#d0504c"/>
<text x="1574.0" y="996.0" font-family='"DejaVu Sans", "Liberation Sans", sans-serif' font-size="14" font-weight="normal" fill="#9a9a9a" text-anchor="start" textLength="116.0" lengthAdjust="spacingAndGlyphs" >UCI COVID-19</text>
<circle cx="1708.5" cy="991" r="8" fill="#111"/>
<text x="1721.0" y="996.0" font-family='"DejaVu Sans", "Liberation Sans", sans-serif' font-size="14" font-weight="normal" fill="#9a9a9a" text-anchor="start" textLength="37.0" lengthAdjust="spacingAndGlyphs" >Total</text>
<line x1="1414" y1="1301.7" x2="2410" y2="1301.7" stroke="#ebebeb" stroke-width="1.6"/>
<line x1="1414" y1="1201.0" x2="2410" y2="1201.0" stroke="#ebebeb" stroke-width="1.6"/>
<line x1="1414" y1="1100.3" x2="2410" y2="1100.3" stroke="#ebebeb" stroke-width="1.6"/>
<text x="1397.0" y="1105.8" font-family='"Liberation Sans", sans-serif' font-size="15" font-weight="normal" fill="#b0b0b0" text-anchor="end" textLength="38.0" lengthAdjust="spacingAndGlyphs" >2000</text>
<text x="1397.0" y="1206.5" font-family='"Liberation Sans", sans-serif' font-size="15" font-weight="normal" fill="#b0b0b0" text-anchor="end" textLength="38.0" lengthAdjust="spacingAndGlyphs" >1000</text>
<text x="1396.0" y="1307.2" font-family='"Liberation Sans", sans-serif' font-size="15" font-weight="normal" fill="#b0b0b0" text-anchor="end" >0</text>
<rect x="1440.3" y="1253.0" width="25.6" height="48.7" fill="#7f7f7f"/>
<rect x="1465.9" y="1256.3" width="25.0" height="45.4" fill="#d24f4b"/>
<rect x="1504.0" y="1253.0" width="25.6" height="48.7" fill="#7f7f7f"/>
<rect x="1529.6" y="1247.0" width="25.0" height="54.7" fill="#d24f4b"/>
<rect x="1567.8" y="1252.2" width="25.6" height="49.5" fill="#7f7f7f"/>
<rect x="1593.4" y="1234.2" width="25.0" height="67.5" fill="#d24f4b"/>
<rect x="1631.5" y="1262.5" width="25.6" height="39.2" fill="#7f7f7f"/>
<rect x="1657.1" y="1202.2" width="25.0" height="99.5" fill="#d24f4b"/>
<rect x="1695.3" y="1266.3" width="25.6" height="35.4" fill="#7f7f7f"/>
<rect x="1720.9" y="1142.0" width="25.0" height="159.7" fill="#d24f4b"/>
<rect x="1759.0" y="1272.2" width="25.6" height="29.5" fill="#7f7f7f"/>
<rect x="1784.6" y="1114.6" width="25.0" height="187.1" fill="#d24f4b"/>
<rect x="1822.8" y="1249.3" width="25.6" height="52.4" fill="#7f7f7f"/>
<rect x="1848.4" y="1132.5" width="25.0" height="169.2" fill="#d24f4b"/>
<rect x="1886.5" y="1249.2" width="25.6" height="52.5" fill="#7f7f7f"/>
<rect x="1912.1" y="1135.1" width="25.0" height="166.6" fill="#d24f4b"/>
<rect x="1950.3" y="1240.9" width="25.6" height="60.8" fill="#7f7f7f"/>
<rect x="1975.9" y="1139.5" width="25.0" height="162.2" fill="#d24f4b"/>
<rect x="2014.0" y="1250.7" width="25.6" height="51.0" fill="#7f7f7f"/>
<rect x="2039.6" y="1127.2" width="25.0" height="174.5" fill="#d24f4b"/>
<rect x="2077.8" y="1256.9" width="25.6" height="44.8" fill="#7f7f7f"/>
<rect x="2103.4" y="1100.0" width="25.0" height="201.7" fill="#d24f4b"/>
<rect x="2141.6" y="1228.1" width="25.6" height="73.6" fill="#7f7f7f"/>
<rect x="2167.2" y="1135.3" width="25.0" height="166.4" fill="#d24f4b"/>
<rect x="2205.3" y="1214.1" width="25.6" height="87.6" fill="#7f7f7f"/>
<rect x="2230.9" y="1154.6" width="25.0" height="147.1" fill="#d24f4b"/>
<rect x="2269.1" y="1251.0" width="25.6" height="50.7" fill="#7f7f7f"/>
<rect x="2294.7" y="1092.7" width="25.0" height="209.0" fill="#d24f4b"/>
<rect x="2332.8" y="1252.2" width="25.6" height="49.5" fill="#7f7f7f"/>
<rect x="2358.4" y="1086.2" width="25.0" height="215.5" fill="#d24f4b"/>
<polyline fill="none" stroke="#1c1c1c" stroke-width="3.1" stroke-linejoin="round" stroke-linecap="round" points="1465.9,1207.5 1529.6,1198.3 1593.4,1184.7 1657.1,1163.0 1720.9,1106.5 1784.6,1085.1 1848.4,1080.2 1912.1,1082.7 1975.9,1078.6 2039.6,1076.2 2103.4,1055.2 2167.2,1061.7 2230.9,1067.0 2294.7,1042.1 2332.5,1037.6"/>
<text x="1453.1" y="1239.2" font-family='"Liberation Sans", sans-serif' font-size="18.6" font-weight="bold" fill="#383838" text-anchor="middle" textLength="29.5" lengthAdjust="spacingAndGlyphs" >484</text>
<text x="1465.9" y="1193.5" font-family='"Liberation Sans", sans-serif' font-size="18.6" font-weight="bold" fill="#383838" text-anchor="middle" textLength="29.5" lengthAdjust="spacingAndGlyphs" >935</text>
<text x="1516.8" y="1239.2" font-family='"Liberation Sans", sans-serif' font-size="18.6" font-weight="bold" fill="#383838" text-anchor="middle" textLength="29.5" lengthAdjust="spacingAndGlyphs" >484</text>
<text x="1529.6" y="1184.2" font-family='"Liberation Sans", sans-serif' font-size="18.6" font-weight="bold" fill="#383838" text-anchor="middle" textLength="42.5" lengthAdjust="spacingAndGlyphs" >1,027</text>
<text x="1580.6" y="1238.4" font-family='"Liberation Sans", sans-serif' font-size="18.6" font-weight="bold" fill="#383838" text-anchor="middle" textLength="29.5" lengthAdjust="spacingAndGlyphs" >492</text>
<text x="1606.2" y="1220.0" font-family='"Liberation Sans", sans-serif' font-size="18.6" font-weight="bold" fill="#383838" text-anchor="middle" textLength="29.5" lengthAdjust="spacingAndGlyphs" >670</text>
<text x="1593.4" y="1170.6" font-family='"Liberation Sans", sans-serif' font-size="18.6" font-weight="bold" fill="#383838" text-anchor="middle" textLength="42.5" lengthAdjust="spacingAndGlyphs" >1,162</text>
<text x="1644.3" y="1248.8" font-family='"Liberation Sans", sans-serif' font-size="18.6" font-weight="bold" fill="#383838" text-anchor="middle" textLength="29.5" lengthAdjust="spacingAndGlyphs" >389</text>
<text x="1670.0" y="1188.0" font-family='"Liberation Sans", sans-serif' font-size="18.6" font-weight="bold" fill="#383838" text-anchor="middle" textLength="29.5" lengthAdjust="spacingAndGlyphs" >988</text>
<text x="1657.1" y="1149.0" font-family='"Liberation Sans", sans-serif' font-size="18.6" font-weight="bold" fill="#383838" text-anchor="middle" textLength="42.5" lengthAdjust="spacingAndGlyphs" >1,377</text>
<text x="1708.1" y="1252.5" font-family='"Liberation Sans", sans-serif' font-size="18.6" font-weight="bold" fill="#383838" text-anchor="middle" textLength="29.5" lengthAdjust="spacingAndGlyphs" >352</text>
<text x="1733.7" y="1127.7" font-family='"Liberation Sans", sans-serif' font-size="18.6" font-weight="bold" fill="#383838" text-anchor="middle" textLength="42.5" lengthAdjust="spacingAndGlyphs" >1,586</text>
<text x="1720.9" y="1092.5" font-family='"Liberation Sans", sans-serif' font-size="18.6" font-weight="bold" fill="#383838" text-anchor="middle" textLength="42.5" lengthAdjust="spacingAndGlyphs" >1,938</text>
<text x="1771.8" y="1258.5" font-family='"Liberation Sans", sans-serif' font-size="18.6" font-weight="bold" fill="#383838" text-anchor="middle" textLength="29.5" lengthAdjust="spacingAndGlyphs" >293</text>
<text x="1797.5" y="1100.4" font-family='"Liberation Sans", sans-serif' font-size="18.6" font-weight="bold" fill="#383838" text-anchor="middle" textLength="42.5" lengthAdjust="spacingAndGlyphs" >1,858</text>
<text x="1784.6" y="1071.1" font-family='"Liberation Sans", sans-serif' font-size="18.6" font-weight="bold" fill="#383838" text-anchor="middle" textLength="42.5" lengthAdjust="spacingAndGlyphs" >2,151</text>
<text x="1835.6" y="1235.6" font-family='"Liberation Sans", sans-serif' font-size="18.6" font-weight="bold" fill="#383838" text-anchor="middle" textLength="29.5" lengthAdjust="spacingAndGlyphs" >520</text>
<text x="1861.2" y="1118.3" font-family='"Liberation Sans", sans-serif' font-size="18.6" font-weight="bold" fill="#383838" text-anchor="middle" textLength="42.5" lengthAdjust="spacingAndGlyphs" >1,680</text>
<text x="1848.4" y="1066.1" font-family='"Liberation Sans", sans-serif' font-size="18.6" font-weight="bold" fill="#383838" text-anchor="middle" textLength="42.5" lengthAdjust="spacingAndGlyphs" >2,200</text>
<text x="1899.3" y="1235.5" font-family='"Liberation Sans", sans-serif' font-size="18.6" font-weight="bold" fill="#383838" text-anchor="middle" textLength="29.5" lengthAdjust="spacingAndGlyphs" >521</text>
<text x="1925.0" y="1120.9" font-family='"Liberation Sans", sans-serif' font-size="18.6" font-weight="bold" fill="#383838" text-anchor="middle" textLength="42.5" lengthAdjust="spacingAndGlyphs" >1,654</text>
<text x="1912.1" y="1068.6" font-family='"Liberation Sans", sans-serif' font-size="18.6" font-weight="bold" fill="#383838" text-anchor="middle" textLength="42.5" lengthAdjust="spacingAndGlyphs" >2,175</text>
<text x="1963.1" y="1227.1" font-family='"Liberation Sans", sans-serif' font-size="18.6" font-weight="bold" fill="#383838" text-anchor="middle" textLength="29.5" lengthAdjust="spacingAndGlyphs" >604</text>
<text x="1988.7" y="1125.2" font-family='"Liberation Sans", sans-serif' font-size="18.6" font-weight="bold" fill="#383838" text-anchor="middle" textLength="42.5" lengthAdjust="spacingAndGlyphs" >1,611</text>
<text x="1975.9" y="1064.6" font-family='"Liberation Sans", sans-serif' font-size="18.6" font-weight="bold" fill="#383838" text-anchor="middle" textLength="42.5" lengthAdjust="spacingAndGlyphs" >2,215</text>
<text x="2026.8" y="1237.0" font-family='"Liberation Sans", sans-serif' font-size="18.6" font-weight="bold" fill="#383838" text-anchor="middle" textLength="29.5" lengthAdjust="spacingAndGlyphs" >506</text>
<text x="2052.4" y="1112.9" font-family='"Liberation Sans", sans-serif' font-size="18.6" font-weight="bold" fill="#383838" text-anchor="middle" textLength="42.5" lengthAdjust="spacingAndGlyphs" >1,733</text>
<text x="2039.6" y="1062.2" font-family='"Liberation Sans", sans-serif' font-size="18.6" font-weight="bold" fill="#383838" text-anchor="middle" textLength="42.5" lengthAdjust="spacingAndGlyphs" >2,239</text>
<text x="2090.6" y="1243.1" font-family='"Liberation Sans", sans-serif' font-size="18.6" font-weight="bold" fill="#383838" text-anchor="middle" textLength="29.5" lengthAdjust="spacingAndGlyphs" >445</text>
<text x="2116.2" y="1085.8" font-family='"Liberation Sans", sans-serif' font-size="18.6" font-weight="bold" fill="#383838" text-anchor="middle" textLength="42.5" lengthAdjust="spacingAndGlyphs" >2,003</text>
<text x="2103.4" y="1043.4" font-family='"Liberation Sans", sans-serif' font-size="18.6" font-weight="bold" fill="#383838" text-anchor="middle" textLength="42.5" lengthAdjust="spacingAndGlyphs" >2,448</text>
<text x="2154.4" y="1214.3" font-family='"Liberation Sans", sans-serif' font-size="18.6" font-weight="bold" fill="#383838" text-anchor="middle" textLength="29.5" lengthAdjust="spacingAndGlyphs" >731</text>
<text x="2180.0" y="1121.1" font-family='"Liberation Sans", sans-serif' font-size="18.6" font-weight="bold" fill="#383838" text-anchor="middle" textLength="42.5" lengthAdjust="spacingAndGlyphs" >1,652</text>
<text x="2167.2" y="1047.7" font-family='"Liberation Sans", sans-serif' font-size="18.6" font-weight="bold" fill="#383838" text-anchor="middle" textLength="42.5" lengthAdjust="spacingAndGlyphs" >2,383</text>
<text x="2218.1" y="1200.3" font-family='"Liberation Sans", sans-serif' font-size="18.6" font-weight="bold" fill="#383838" text-anchor="middle" textLength="29.5" lengthAdjust="spacingAndGlyphs" >870</text>
<text x="2243.7" y="1140.3" font-family='"Liberation Sans", sans-serif' font-size="18.6" font-weight="bold" fill="#383838" text-anchor="middle" textLength="42.5" lengthAdjust="spacingAndGlyphs" >1,461</text>
<text x="2230.9" y="1052.9" font-family='"Liberation Sans", sans-serif' font-size="18.6" font-weight="bold" fill="#383838" text-anchor="middle" textLength="42.5" lengthAdjust="spacingAndGlyphs" >2,331</text>
<text x="2281.9" y="1237.3" font-family='"Liberation Sans", sans-serif' font-size="18.6" font-weight="bold" fill="#383838" text-anchor="middle" textLength="29.5" lengthAdjust="spacingAndGlyphs" >503</text>
<text x="2307.5" y="1078.5" font-family='"Liberation Sans", sans-serif' font-size="18.6" font-weight="bold" fill="#383838" text-anchor="middle" textLength="42.5" lengthAdjust="spacingAndGlyphs" >2,075</text>
<text x="2294.7" y="1042.4" font-family='"Liberation Sans", sans-serif' font-size="18.6" font-weight="bold" fill="#383838" text-anchor="middle" textLength="42.5" lengthAdjust="spacingAndGlyphs" >2,578</text>
<text x="2346.5" y="1236.3" font-family='"Liberation Sans", sans-serif' font-size="14.5" font-weight="bold" fill="#1a1a1a" text-anchor="middle" textLength="23.0" lengthAdjust="spacingAndGlyphs" >492</text>
<text x="2371.0" y="1076.6" font-family='"Liberation Sans", sans-serif' font-size="15" font-weight="bold" fill="#1a1a1a" text-anchor="middle" textLength="34.3" lengthAdjust="spacingAndGlyphs" >2.140</text>
<text x="2364.0" y="1039.1" font-family='"Liberation Sans", sans-serif' font-size="15.5" font-weight="bold" fill="#1a1a1a" text-anchor="middle" textLength="35.4" lengthAdjust="spacingAndGlyphs" >2.634</text>
<text transform="translate(1461.1,1316.5) rotate(-34)" font-family='"Liberation Sans", sans-serif' font-size="16" fill="#b4b4b4" text-anchor="end" textLength="81" lengthAdjust="spacingAndGlyphs">1/04/2020</text>
<text transform="translate(1524.8,1316.5) rotate(-34)" font-family='"Liberation Sans", sans-serif' font-size="16" fill="#b4b4b4" text-anchor="end" textLength="81" lengthAdjust="spacingAndGlyphs">1/05/2020</text>
<text transform="translate(1588.6,1316.5) rotate(-34)" font-family='"Liberation Sans", sans-serif' font-size="16" fill="#b4b4b4" text-anchor="end" textLength="81" lengthAdjust="spacingAndGlyphs">1/06/2020</text>
<text transform="translate(1652.3,1316.5) rotate(-34)" font-family='"Liberation Sans", sans-serif' font-size="16" fill="#b4b4b4" text-anchor="end" textLength="81" lengthAdjust="spacingAndGlyphs">1/07/2020</text>
<text transform="translate(1716.1,1316.5) rotate(-34)" font-family='"Liberation Sans", sans-serif' font-size="16" fill="#b4b4b4" text-anchor="end" textLength="81" lengthAdjust="spacingAndGlyphs">1/08/2020</text>
<text transform="translate(1779.8,1316.5) rotate(-34)" font-family='"Liberation Sans", sans-serif' font-size="16" fill="#b4b4b4" text-anchor="end" textLength="81" lengthAdjust="spacingAndGlyphs">1/09/2020</text>
<text transform="translate(1843.6,1316.5) rotate(-34)" font-family='"Liberation Sans", sans-serif' font-size="16" fill="#b4b4b4" text-anchor="end" textLength="81" lengthAdjust="spacingAndGlyphs">1/10/2020</text>
<text transform="translate(1907.3,1316.5) rotate(-34)" font-family='"Liberation Sans", sans-serif' font-size="16" fill="#b4b4b4" text-anchor="end" textLength="81" lengthAdjust="spacingAndGlyphs">1/11/2020</text>
<text transform="translate(1971.1,1316.5) rotate(-34)" font-family='"Liberation Sans", sans-serif' font-size="16" fill="#b4b4b4" text-anchor="end" textLength="81" lengthAdjust="spacingAndGlyphs">1/12/2020</text>
<text transform="translate(2034.8,1316.5) rotate(-34)" font-family='"Liberation Sans", sans-serif' font-size="16" fill="#b4b4b4" text-anchor="end" textLength="81" lengthAdjust="spacingAndGlyphs">1/01/2021</text>
<text transform="translate(2098.6,1316.5) rotate(-34)" font-family='"Liberation Sans", sans-serif' font-size="16" fill="#b4b4b4" text-anchor="end" textLength="81" lengthAdjust="spacingAndGlyphs">1/02/2021</text>
<text transform="translate(2162.3,1316.5) rotate(-34)" font-family='"Liberation Sans", sans-serif' font-size="16" fill="#b4b4b4" text-anchor="end" textLength="81" lengthAdjust="spacingAndGlyphs">1/03/2021</text>
<text transform="translate(2226.1,1316.5) rotate(-34)" font-family='"Liberation Sans", sans-serif' font-size="16" fill="#b4b4b4" text-anchor="end" textLength="81" lengthAdjust="spacingAndGlyphs">1/04/2021</text>
<text transform="translate(2289.8,1316.5) rotate(-34)" font-family='"Liberation Sans", sans-serif' font-size="16" fill="#b4b4b4" text-anchor="end" textLength="81" lengthAdjust="spacingAndGlyphs">1/05/2021</text>
<text transform="translate(2353.6,1316.5) rotate(-34)" font-family='"Liberation Sans", sans-serif' font-size="16" fill="#b4b4b4" text-anchor="end" textLength="90" lengthAdjust="spacingAndGlyphs">10/05/2021</text>
</svg>
</div>
<div class="abs" id="bshadow"></div>
<div class="abs" id="bshadow2"></div>
<div class="abs" id="banner"></div>
<div class="abs" id="topline"></div>
<svg class="abs" style="left:0;top:0" width="2100" height="170" viewBox="0 0 2100 170">
<text id="h1" x="76.3" y="65.6" font-family='"Liberation Sans", sans-serif' font-size="57.1" font-weight="bold" fill="#fff" stroke="#fff" stroke-width="1.1" textLength="437" lengthAdjust="spacingAndGlyphs">DATOS DE SALUD</text>
<text id="h2" x="76.3" y="137.7" font-family='"Liberation Sans", sans-serif' font-size="57.1" font-weight="bold" fill="#fff" stroke="#fff" stroke-width="1.1" textLength="828" lengthAdjust="spacingAndGlyphs">ENFERMEDADES TRANSMISIBLES</text>
</svg>
</body></html>
